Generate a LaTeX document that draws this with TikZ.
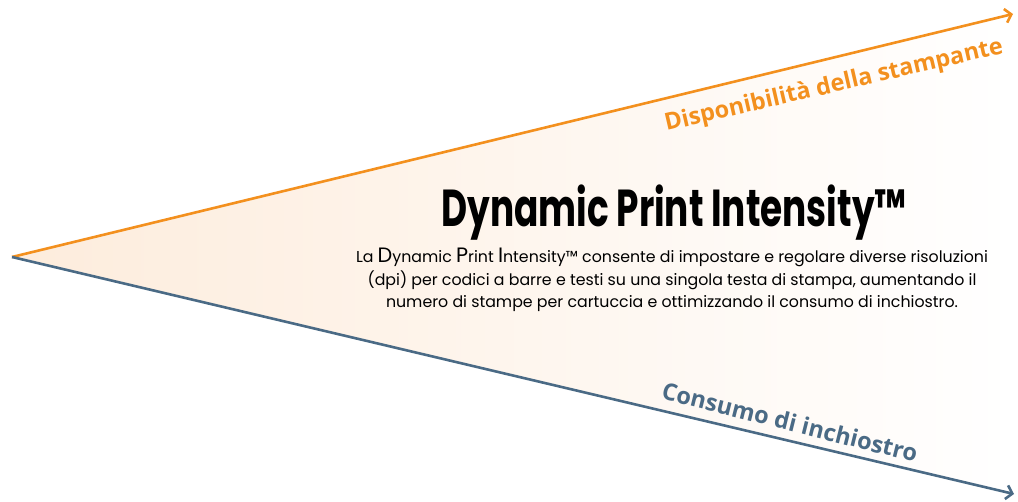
\documentclass[tikz,border=0pt]{standalone}
\usepackage{fontspec}
\usepackage{tikz}
\usetikzlibrary{arrows.meta}
\setmainfont{Poppins}
\newfontfamily\titlefont[FakeStretch=0.69]{Poppins}
\newfontfamily\bodyfont[FakeStretch=1.0]{Poppins}
\newfontfamily\labelfont{Open Sans}
\definecolor{avail}{RGB}{243,144,30}
\definecolor{inkblue}{RGB}{74,106,133}
\definecolor{peach}{RGB}{253,236,220}
\newcommand{\initial}[1]{{\fontsize{20.8}{22}\selectfont #1}}
\begin{document}
\begin{tikzpicture}[x=1pt,y=-1pt]
\useasboundingbox (0,0) rectangle (1018,502);

\coordinate (0) at (12,257);
\coordinate (1) at (1013,14);
\coordinate (2) at (1014,494);
\shade[left color=peach,right color=white] (0) -- (1) -- (2) -- cycle;
\tikzset{AxisStyle/.style={line width=2.6pt,-{Straight Barb[length=6pt,width=14pt]}}}
\tikzset{LabelStyle/.style={font=\labelfont\bfseries\fontsize{23.5}{26}\selectfont}}
\draw[AxisStyle,avail] (0) -- (1);
\draw[AxisStyle,inkblue] (0) -- (2);

\node[LabelStyle,text=avail,rotate=13] (avail) at (834,86) {Disponibilità della stampante};
\node[LabelStyle,text=inkblue,rotate=-14] (ink) at (790,422) {Consumo di inchiostro};
\node (title) at (674,213) {\titlefont\bfseries\fontsize{52}{56}\selectfont Dynamic Print Intensity™};
\node[align=center,font=\bodyfont\fontsize{15.8}{22.5}\selectfont] (text) at (672,280)
{La \initial{D}ynamic \initial{P}rint \initial{I}ntensity™ consente di impostare e regolare diverse risoluzioni\\
(dpi) per codici a barre e testi su una singola testa di stampa, aumentando il\\
numero di stampe per cartuccia e ottimizzando il consumo di inchiostro.};
\end{tikzpicture}
\end{document}
